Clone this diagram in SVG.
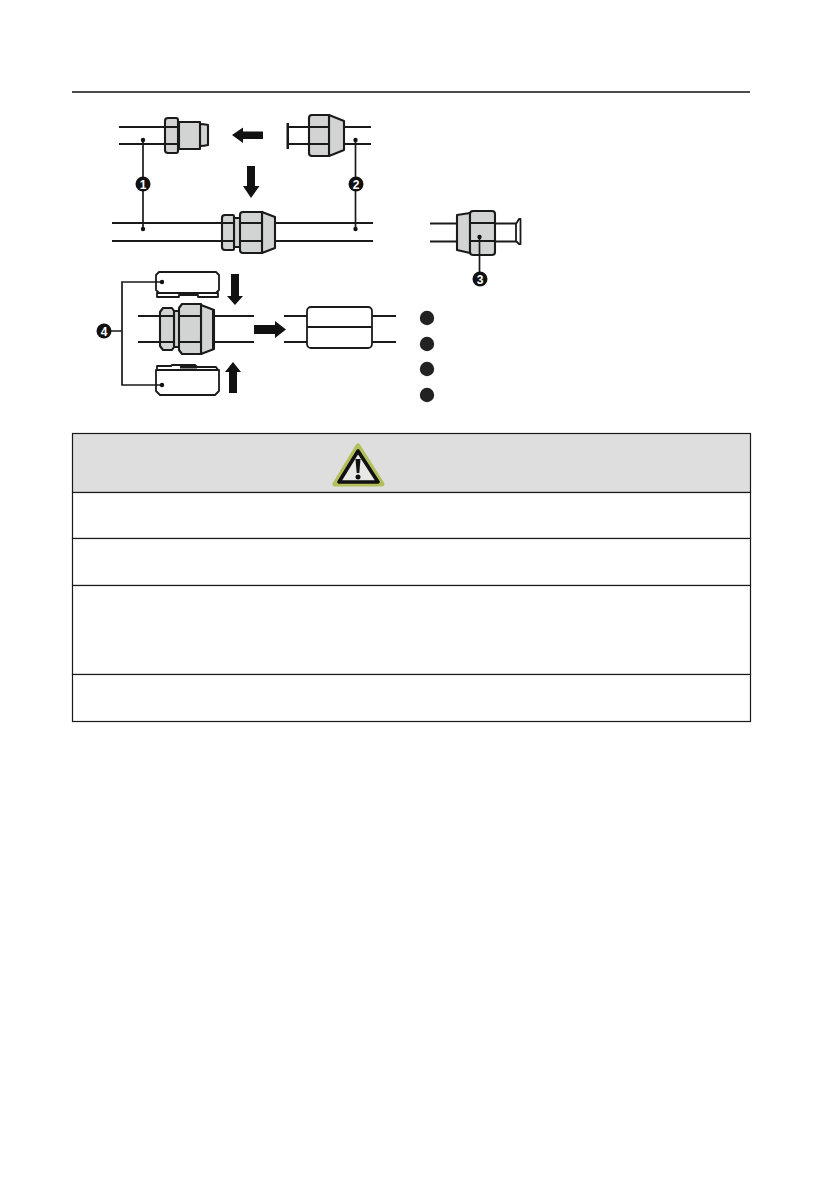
<svg xmlns="http://www.w3.org/2000/svg" width="822" height="1191" viewBox="0 0 822 1191">
<style>
.p{stroke:#1a1a1a;stroke-width:1.9;fill:none}
.b{fill:#d2d3d3;stroke:#1a1a1a;stroke-width:2.1;stroke-linejoin:round}
.w{fill:#fff;stroke:#1a1a1a;stroke-width:1.8;stroke-linejoin:round}
.l{stroke:#1a1a1a;stroke-width:1.7;fill:none}
.a{fill:#111}
.d{fill:#111}
.bc{fill:#111}
.t{font:bold 12px "Liberation Sans",Arial,sans-serif;fill:#fff;text-anchor:middle}
.cell{fill:#fff;stroke:#1a1a1a;stroke-width:1.2}
</style>
<rect width="822" height="1191" fill="#fff"/>
<line x1="72" y1="92" x2="750" y2="92" stroke="#111" stroke-width="1.3"/>

<g id="fitting-male">
<path class="p" d="M119 127H166M119 144H166"/>
<path class="b" d="M208 125Q204 124 200 124V146Q204 146 208 145Z"/>
<rect class="b" x="179" y="122" width="21" height="27"/>
<path class="b" d="M168 118H176Q178 118 178 120V151Q178 153 176 153H168Q165 153 165 150V121Q165 118 168 118Z"/>
<path class="p" d="M165 127H178M165 144H178"/>
</g>
<g id="fitting-female">
<path class="p" d="M288 127H310M288 144H310M344 127H371M344 144H371"/>
<rect x="286.500" y="123" width="2.500" height="26" fill="#1a1a1a"/>
<path class="b" d="M329 115L344 121V150L329 156Z"/>
<path class="b" d="M312 115H329V156H312Q309 156 309 153V118Q309 115 312 115Z"/>
<path class="p" d="M309 127H329M309 144H329"/>
</g>
<g id="fitting-joined">
<path class="p" d="M112 223H222M112 241H222M275 223H373M275 241H373"/>
<rect class="b" x="234" y="218" width="7" height="29"/>
<path class="b" d="M225 215H233Q234 215 234 217V249Q234 250 233 250H225Q222 250 222 247V218Q222 215 225 215Z"/>
<path class="b" d="M262 212L275 217V248L262 253Z"/>
<path class="b" d="M243 212H262V253H243Q240 253 240 250V215Q240 212 243 212Z"/>
<path class="p" d="M222 223H234M222 241H234M240 223H262M240 241H262"/>
</g>
<g id="fitting-disassembled">
<path class="p" d="M430 223.500H457M430 241.500H457M495 223.500H516M495 241.500H516"/>
<path class="w" d="M516 224L519 219H520.500V244H519L516 241Z"/>
<path class="b" d="M457 215L470 213V253L457 250Z"/>
<path class="b" d="M473 211H492Q495 211 495 214V252Q495 255 492 255H473Q470 255 470 252V214Q470 211 473 211Z"/>
<path class="p" d="M470 223H495M470 241H495"/>
</g>
<g id="clamp-top">
<path class="w" d="M159 272H216L219 275V290L216 293H159L156 290V275Z"/>
<path class="w" d="M157 293H218V297H198V295H179V297H157Z"/>
</g>
<g id="fitting-clamped">
<path class="p" d="M138 316H160M138 342H160M214 316H254M214 342H254"/>
<rect class="b" x="174" y="311" width="6" height="36"/>
<path class="b" d="M163 308H172L174 311V347L172 350H163L160 346V312Z"/>
<path class="b" d="M201 305L214 310V349L201 354Z"/>
<path class="b" d="M182 304H201V354H182L179 350V308Z"/>
<rect x="212" y="310" width="3" height="39" fill="#1a1a1a"/>
<path class="p" d="M160 316H174M160 342H174M179 316H201M179 342H201"/>
</g>
<g id="clamp-bottom">
<path class="w" d="M157 366H171L172 365H195L197 367H216L218 370H157Z"/>
<rect x="180" y="366" width="17" height="2.500" fill="#1a1a1a"/>
<path class="w" d="M156 370H219V391L215 395H160L156 391Z"/>
</g>
<g id="sealed-joint">
<path class="p" d="M284 316H308M284 342H308M371 316H396M371 342H396"/>
<rect class="w" x="307" y="307" width="65" height="41" rx="4"/>
<line class="p" x1="307" y1="327" x2="372" y2="327"/>
</g>

<g id="connectors">
<path class="l" d="M143 140V229M355.500 140V229M479.500 237V279M162 282H122V385H162M104 331H122"/>
<circle class="d" cx="143" cy="140" r="2.200"/>
<circle class="d" cx="143" cy="229" r="2.200"/>
<circle class="d" cx="355.500" cy="140" r="2.200"/>
<circle class="d" cx="355.500" cy="229" r="2.200"/>
<circle class="d" cx="479.500" cy="237" r="2.200"/>
<circle class="d" cx="162" cy="282" r="2.200"/>
<circle class="d" cx="162" cy="385" r="2.200"/>
<path class="a" d="M232 135L243 127.500V131.500H263V139H243V143Z"/>
<path class="a" d="M247 166H255V186H259.500L251 198L243 186H247Z"/>
<path class="a" d="M231 274H239V296H243L235 305L227 296H231Z"/>
<path class="a" d="M233 362L241 372H237V393H229V372H225Z"/>
<path class="a" d="M254 325H275V321L286 329.500L275 338V334H254Z"/>
</g>

<g id="badge-1"><circle class="bc" cx="143" cy="184" r="7.500"/><text class="t" x="143" y="188.500">1</text></g>
<g id="badge-2"><circle class="bc" cx="356" cy="184" r="7.500"/><text class="t" x="356" y="188.500">2</text></g>
<g id="badge-3"><circle class="bc" cx="480" cy="279" r="7.500"/><text class="t" x="480" y="283.500">3</text></g>
<g id="badge-4"><circle class="bc" cx="104" cy="331" r="7.500"/><text class="t" x="104" y="335.500">4</text></g>

<g id="legend">
<circle cx="427" cy="318" r="7.200" fill="#222"/>
<circle cx="427" cy="344" r="7.200" fill="#222"/>
<circle cx="427" cy="369" r="7.200" fill="#222"/>
<circle cx="427" cy="395" r="7.200" fill="#222"/>
</g>

<g id="warning-table">
<rect x="72.500" y="433.500" width="678" height="59" fill="#dedede" stroke="#1a1a1a" stroke-width="1.2"/>
<rect class="cell" x="72.500" y="492.500" width="678" height="46"/>
<rect class="cell" x="72.500" y="538.500" width="678" height="47"/>
<rect class="cell" x="72.500" y="585.500" width="678" height="89"/>
<rect class="cell" x="72.500" y="674.500" width="678" height="47"/>
</g>
<g id="warning-icon">
<path d="M358 446L335 484H382Z" fill="#fff" stroke="#b4bf5a" stroke-width="5" stroke-linejoin="round"/>
<path d="M358 451L339 482H378Z" fill="#e8e8e4" stroke="#111" stroke-width="3.600" stroke-linejoin="round"/>
<path d="M355.500 459H360.500L359.300 473H356.700Z" fill="#111"/>
<circle cx="358" cy="477" r="2.500" fill="#111"/>
</g>
</svg>
